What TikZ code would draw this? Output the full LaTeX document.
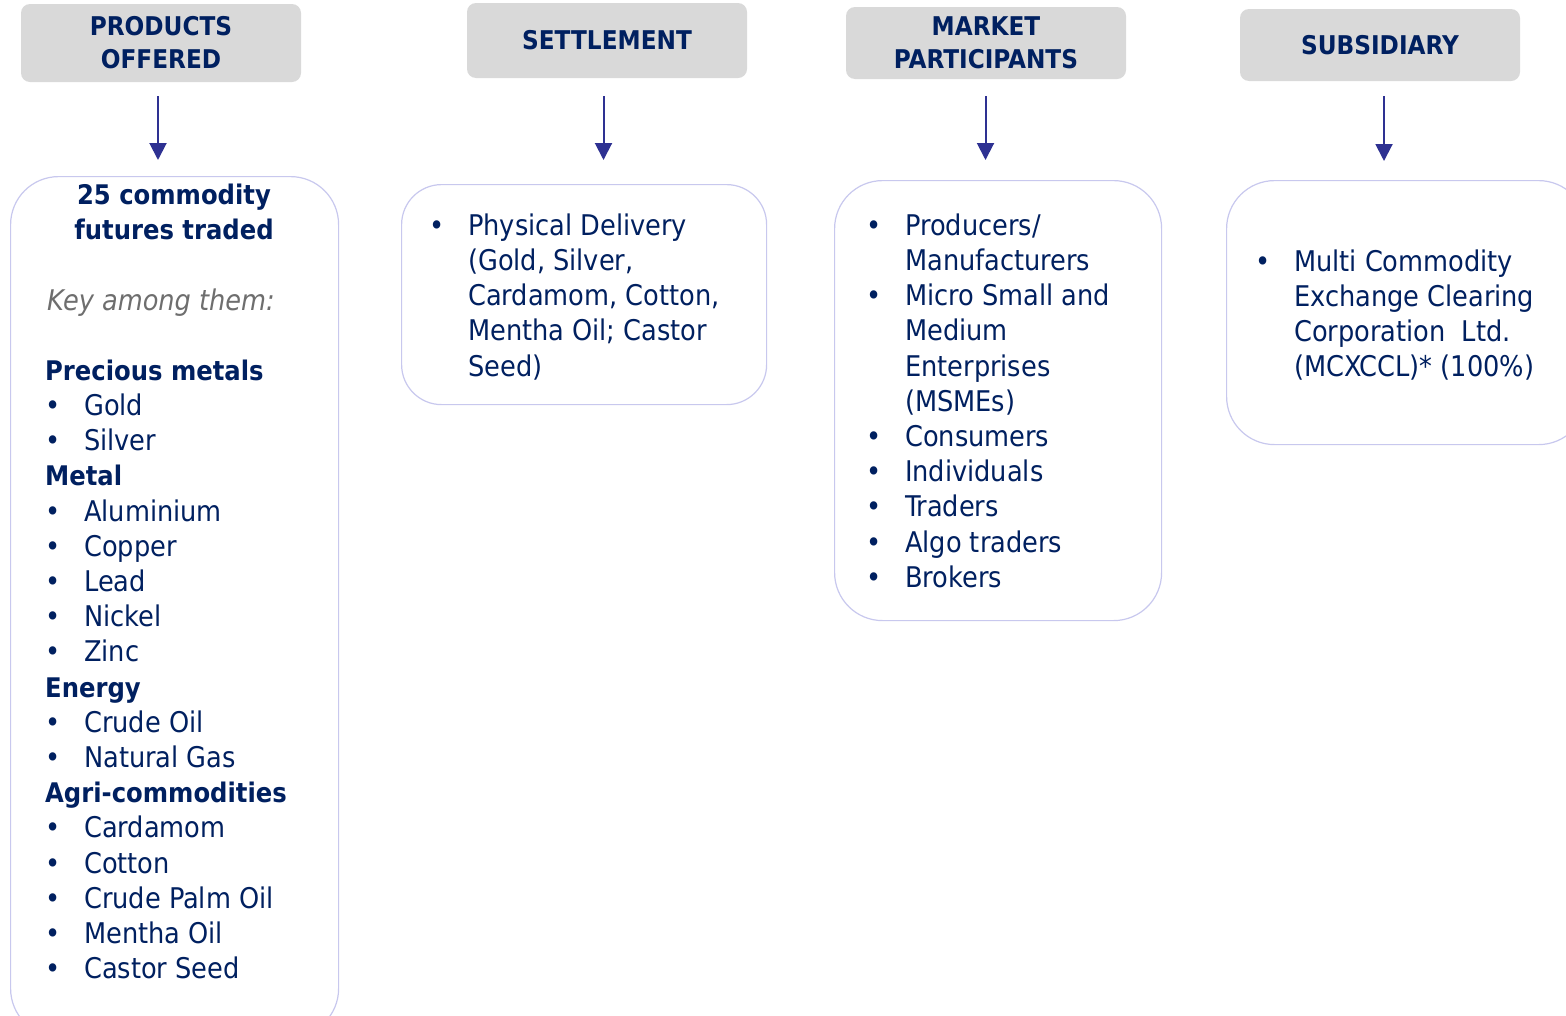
\documentclass[tikz,border=0pt]{standalone}
\usepackage{fontspec}
\setmainfont{DejaVu Sans Condensed}
\usetikzlibrary{arrows.meta}
\definecolor{navy}{RGB}{0,32,96}
\definecolor{hdrgray}{RGB}{217,217,217}
\definecolor{arrowc}{RGB}{46,49,146}
\definecolor{boxline}{RGB}{200,200,238}
\definecolor{keygray}{RGB}{110,110,110}
\newlength\bullw
\setlength\bullw{39pt}
\newcommand\bl{\strut\makebox[\bullw][l]{•}}
\newcommand\ind{\strut\hspace*{\bullw}}
\newcommand\hd[1]{\strut{\fontsize{27}{35.2}\selectfont\textbf{#1}}}
\tikzset{
  hdr/.style={fill=hdrgray, rounded corners=9pt, minimum width=280pt, text=navy,
    font=\bfseries\fontsize{25.8}{33}\selectfont, align=center, inner sep=0pt},
  cbox/.style={draw=boxline, line width=1.2pt, rounded corners=48pt, anchor=north west, inner sep=0pt},
  body/.style={text=navy, font=\fontsize{28.5}{35.2}\selectfont, align=left, anchor=north west, inner sep=0pt},
  arr/.style={draw=arrowc, line width=2pt, -{Triangle[width=17pt,length=17pt]}}
}
\begin{document}
\begin{tikzpicture}[x=1pt,y=-1pt]
\clip (0,0) rectangle (1566,1015);
\fill[white] (0,0) rectangle (1566,1015);
% headers
\node[hdr, minimum height=78pt] (h1) at (161,43) {PRODUCTS\\OFFERED};
\node[hdr, minimum height=75pt] (h2) at (607,40.5) {SETTLEMENT};
\node[hdr, minimum height=72pt] (h3) at (986,43) {MARKET\\PARTICIPANTS};
\node[hdr, minimum height=72pt] (h4) at (1380,45) {SUBSIDIARY};
% content boxes
\node[cbox, minimum width=328pt, minimum height=860pt] (b1) at (10,176) {};
\node[cbox, minimum width=365pt, minimum height=220pt, rounded corners=40pt] (b2) at (401,184) {};
\node[cbox, minimum width=327pt, minimum height=440pt] (b3) at (834,180) {};
\node[cbox, minimum width=360pt, minimum height=264pt] (b4) at (1226,180) {};
% arrows
\coordinate (a1s) at (158,96); \coordinate (a1e) at (158,160);
\coordinate (a2s) at (603.5,96); \coordinate (a2e) at (603.5,160);
\coordinate (a3s) at (985.5,96); \coordinate (a3e) at (985.5,160);
\coordinate (a4s) at (1384,96); \coordinate (a4e) at (1384,161);
\draw[arr] (a1s) -- (a1e);
\draw[arr] (a2s) -- (a2e);
\draw[arr] (a3s) -- (a3e);
\draw[arr] (a4s) -- (a4e);
% box 1 text
\node[body, align=center, anchor=north, font=\bfseries\fontsize{27}{35.2}\selectfont] (t1) at (174,179.4) {\strut 25 commodity\\\strut futures traded};
\node[body, text=keygray] (k1) at (47,285.4) {\strut\textit{Key among them:}};
\node[body] (l1) at (45,355.4) {\hd{Precious metals}\\
\bl Gold\\
\bl Silver\\
\hd{Metal}\\
\bl Aluminium\\
\bl Copper\\
\bl Lead\\
\bl Nickel\\
\bl Zinc\\
\hd{Energy}\\
\bl Crude Oil\\
\bl Natural Gas\\
\hd{Agri-commodities}\\
\bl Cardamom\\
\bl Cotton\\
\bl Crude Palm Oil\\
\bl Mentha Oil\\
\bl Castor Seed};
% box 2 text
\node[body] (l2) at (429,210.4) {\bl Physical Delivery\\
\ind (Gold, Silver,\\
\ind Cardamom, Cotton,\\
\ind Mentha Oil; Castor\\
\ind Seed)};
% box 3 text
\node[body] (l3) at (866,210.4) {\bl Producers/\\
\ind Manufacturers\\
\bl Micro Small and\\
\ind Medium\\
\ind Enterprises\\
\ind (MSMEs)\\
\bl Consumers\\
\bl Individuals\\
\bl Traders\\
\bl Algo traders\\
\bl Brokers};
% box 4 text
\node[body] (l4) at (1255,246.4) {\bl Multi Commodity\\
\ind Exchange Clearing\\
\ind Corporation\ \ Ltd.\\
\ind (MCXCCL)* (100\%)};
\end{tikzpicture}
\end{document}
